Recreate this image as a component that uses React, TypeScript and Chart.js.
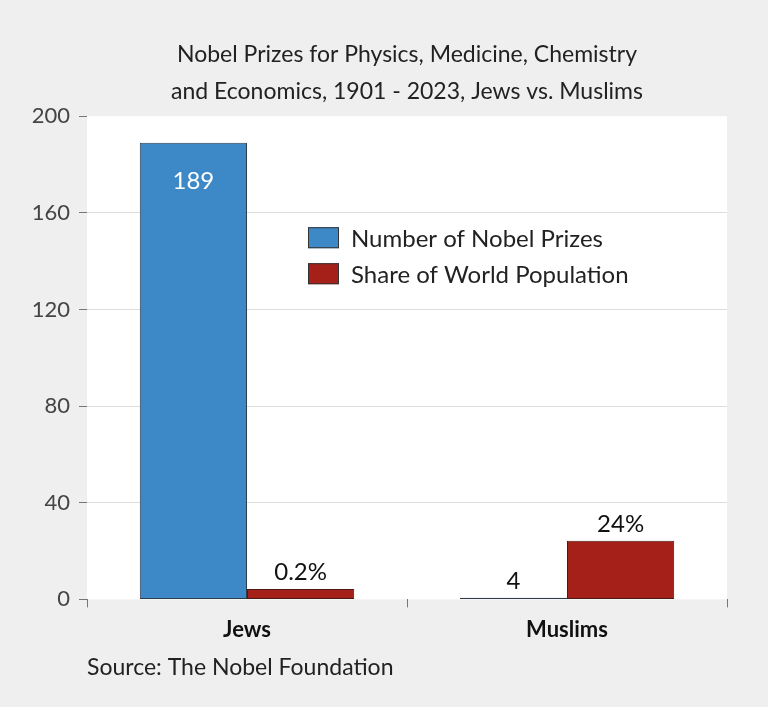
import React, { useEffect, useRef } from "react";
import { Chart, registerables } from "chart.js";

Chart.register(...registerables);

const categories = ["Jews", "Muslims"];
const seriesNames = ["Number of Nobel Prizes", "Share of World Population"];
const prizeBars = [189, 0.7];
const shareBars = [4.3, 24.3];
const prizeLabels = ["189", "4"];
const shareLabels = ["0.2%", "24%"];
const yTicks = [0, 40, 80, 120, 160, 200];
const titleLines = [
  "Nobel Prizes for Physics, Medicine, Chemistry",
  "and Economics, 1901 - 2023, Jews vs. Muslims",
];
const sourceText = "Source: The Nobel Foundation";

const FONT = "Lato, 'Open Sans', sans-serif";
const BLUE = "#3d88c6";
const RED = "#a52018";
const BG = "#efefef";

export default function App() {
  const ref = useRef<HTMLCanvasElement | null>(null);

  useEffect(() => {
    document.body.style.margin = "0";
    document.body.style.background = BG;
    const canvas = ref.current;
    if (!canvas) return;

    const bgPlugin = {
      id: "bgPlugin",
      beforeDraw(chart: any) {
        const { ctx, chartArea } = chart;
        ctx.save();
        ctx.fillStyle = BG;
        ctx.fillRect(0, 0, chart.width, chart.height);
        ctx.fillStyle = "#ffffff";
        ctx.fillRect(
          chartArea.left,
          chartArea.top,
          chartArea.right - chartArea.left,
          chartArea.bottom - chartArea.top
        );
        ctx.restore();
      },
    };

    const labelPlugin = {
      id: "labelPlugin",
      afterDatasetsDraw(chart: any) {
        const { ctx, chartArea } = chart;
        const sets = [prizeLabels, shareLabels];
        ctx.save();
        ctx.font = `24px ${FONT}`;
        ctx.textAlign = "center";
        sets.forEach((labels, di) => {
          const meta = chart.getDatasetMeta(di);
          meta.data.forEach((bar: any, i: number) => {
            const text = labels[i];
            if (bar.y < chartArea.top + 60) {
              ctx.fillStyle = "#ffffff";
              ctx.textBaseline = "middle";
              ctx.fillText(text, bar.x, bar.y + 38);
            } else {
              ctx.fillStyle = "#111111";
              ctx.textBaseline = "alphabetic";
              ctx.fillText(text, bar.x, bar.y - 9);
            }
          });
        });
        ctx.restore();
      },
      afterDraw(chart: any) {
        const { ctx, chartArea } = chart;
        const colors = [BLUE, RED];
        ctx.save();
        ctx.font = `24px ${FONT}`;
        ctx.textBaseline = "middle";
        ctx.textAlign = "left";
        seriesNames.forEach((name, i) => {
          const x = chartArea.left + 221;
          const y = chartArea.top + 111 + i * 36;
          ctx.fillStyle = colors[i];
          ctx.fillRect(x, y, 31, 21);
          ctx.strokeStyle = "#333333";
          ctx.lineWidth = 1;
          ctx.strokeRect(x + 0.5, y + 0.5, 30, 20);
          ctx.fillStyle = "#222222";
          ctx.fillText(name, x + 43, y + 12);
        });
        ctx.restore();
      },
    };

    const chart = new Chart(canvas, {
      type: "bar",
      data: {
        labels: categories,
        datasets: [
          {
            label: seriesNames[0],
            data: prizeBars,
            backgroundColor: BLUE,
            borderColor: "#2e3d4c",
            borderWidth: 1,
            borderSkipped: false,
            barPercentage: 1,
            categoryPercentage: 0.67,
          },
          {
            label: seriesNames[1],
            data: shareBars,
            backgroundColor: RED,
            borderColor: "#4a1a16",
            borderWidth: 1,
            borderSkipped: false,
            barPercentage: 1,
            categoryPercentage: 0.67,
          },
        ],
      },
      options: {
        responsive: false,
        animation: false,
        layout: { padding: { left: 0, right: 41, top: 0, bottom: 0 } },
        plugins: {
          legend: { display: false },
          tooltip: { enabled: false },
          title: {
            display: true,
            text: titleLines,
            fullSize: false,
            color: "#222222",
            font: { family: FONT, size: 23, weight: "normal", lineHeight: 1.57 },
            padding: { top: 37, bottom: 7 },
          },
          subtitle: {
            display: true,
            text: sourceText,
            position: "bottom",
            align: "start",
            fullSize: false,
            color: "#222222",
            font: { family: FONT, size: 23, weight: "normal", lineHeight: 1.2 },
            padding: { top: 0, bottom: 26 },
          },
        },
        scales: {
          x: {
            grid: {
              display: true,
              offset: true,
              drawOnChartArea: false,
              drawTicks: true,
              tickLength: 8,
              tickColor: "#777777",
            },
            border: { display: false },
            ticks: {
              color: "#111111",
              padding: 9,
              font: { family: FONT, size: 22, weight: "bold" },
            },
            afterFit(scale: any) {
              scale.height = 54;
            },
          },
          y: {
            min: 0,
            max: 200,
            afterBuildTicks(scale: any) {
              scale.ticks = yTicks.map((v) => ({ value: v }));
            },
            grid: {
              color: (c: any) =>
                c.tick && (c.tick.value === 0 || c.tick.value === 200)
                  ? "rgba(0,0,0,0)"
                  : "#dddddd",
              tickColor: "#777777",
              tickLength: 8,
              lineWidth: 1,
            },
            border: { display: false },
            ticks: {
              color: "#444444",
              padding: 9,
              font: { family: FONT, size: 22 },
            },
            afterFit(scale: any) {
              scale.width = 87;
            },
          },
        },
      },
      plugins: [bgPlugin, labelPlugin],
    } as any);

    return () => chart.destroy();
  }, []);

  return (
    <div style={{ width: 768, height: 707, background: BG }}>
      <canvas ref={ref} width={768} height={707} style={{ display: "block" }} />
    </div>
  );
}
